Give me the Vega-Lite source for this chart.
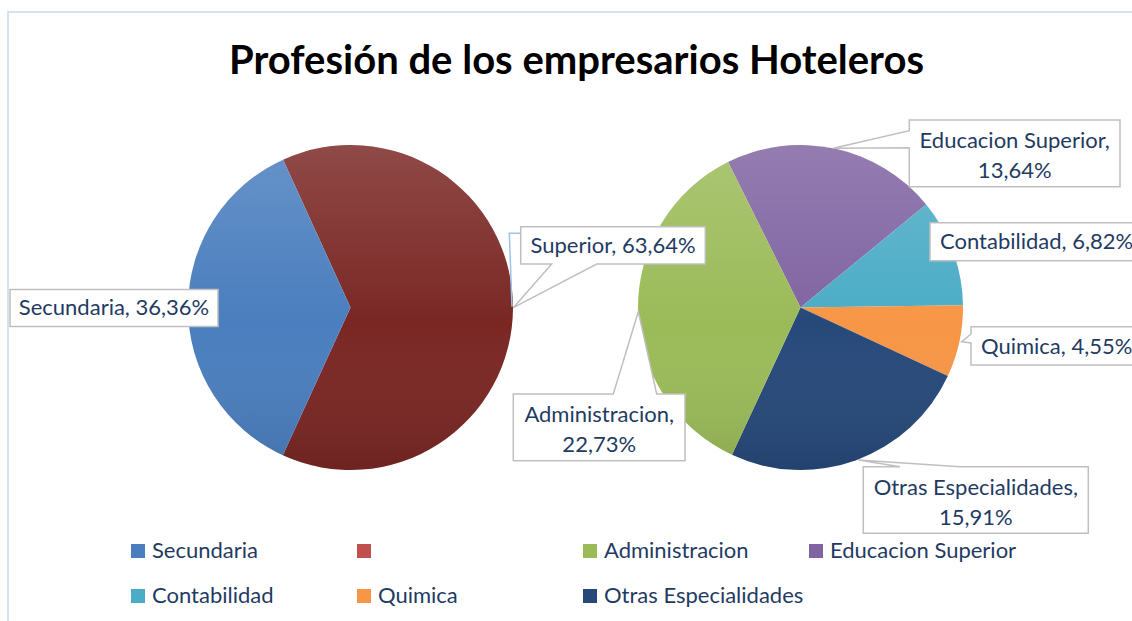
{
  "$schema": "https://vega.github.io/schema/vega-lite/v6.json",
  "width": 1124,
  "height": 609,
  "autosize": "none",
  "padding": {"left": 8, "top": 12, "right": 0, "bottom": 0},
  "background": "white",
  "config": {"view": {"stroke": "#C6D9F1", "strokeWidth": 1.5, "strokeDash": [1124, 1733, 700, 10]}, "font": "Lato"},
  "title": {"text": "Profesión de los empresarios Hoteleros", "fontSize": 40, "font": "Lato", "fontWeight": "bold", "color": "#000000", "anchor": "middle", "frame": "group", "offset": -70, "dx": 6.5},
  "datasets": {
    "datos": [
      {"pie": "Pie 1", "categoria": "Superior", "valor": 63.64, "orden": 1, "etiqueta": "Superior, 63,64%"},
      {"pie": "Pie 1", "categoria": "Secundaria", "valor": 36.36, "orden": 2, "etiqueta": "Secundaria, 36,36%"},
      {"pie": "Pie 2", "categoria": "Educacion Superior", "valor": 13.64, "orden": 1, "etiqueta": "Educacion Superior,\n13,64%"},
      {"pie": "Pie 2", "categoria": "Contabilidad", "valor": 6.82, "orden": 2, "etiqueta": "Contabilidad, 6,82%"},
      {"pie": "Pie 2", "categoria": "Quimica", "valor": 4.55, "orden": 3, "etiqueta": "Quimica, 4,55%"},
      {"pie": "Pie 2", "categoria": "Otras Especialidades", "valor": 15.91, "orden": 4, "etiqueta": "Otras Especialidades,\n15,91%"},
      {"pie": "Pie 2", "categoria": "Administracion", "valor": 22.73, "orden": 5, "etiqueta": "Administracion,\n22,73%"}
    ]
  },
  "data": {"name": "datos"},
  "encoding": {
    "x": {"field": "pie", "type": "nominal", "scale": {"type": "point", "domain": ["Pie 1", "Pie 2"], "range": [342.5, 792.5], "padding": 0}, "axis": null},
    "y": {"field": "pie", "type": "nominal", "scale": {"type": "point", "domain": ["Pie 1", "Pie 2"], "range": [295.5, 295.5], "padding": 0}, "axis": null}
  },
  "layer": [
    {
      "transform": [{"filter": "datum.pie === 'Pie 1'"}],
      "mark": {"type": "arc", "radius": 162.5},
      "encoding": {
        "theta": {"field": "valor", "type": "quantitative", "stack": true, "scale": {"range": [-0.4276, 5.8556]}},
        "order": {"field": "orden", "type": "quantitative"},
        "fill": {
          "condition": {"test": "datum.categoria === 'Superior'", "value": "#7A2724"},
          "field": "categoria", "type": "nominal",
          "scale": {"domain": ["Secundaria", "Superior", "Administracion", "Educacion Superior", "Contabilidad", "Quimica", "Otras Especialidades"], "range": ["#4A7EBE", "#C0504D", "#9BBB59", "#8064A2", "#4BACC6", "#F79646", "#27497A"]},
          "legend": {
            "title": null, "orient": "none", "legendX": 119, "legendY": 528, "direction": "horizontal", "columns": 4, "gridAlign": "all",
            "columnPadding": 1, "rowPadding": 23, "symbolType": "square", "symbolSize": 196, "symbolStrokeWidth": 0,
            "labelFontSize": 22, "labelFont": "Lato", "labelColor": "#1F3B63", "labelOffset": 3, "padding": 0, "labelLimit": 400,
            "labelExpr": "datum.label === 'Superior' ? '' : datum.label"
          }
        }
      }
    },
    {
      "transform": [{"filter": "datum.pie === 'Pie 2'"}],
      "mark": {"type": "arc", "radius": 162.5},
      "encoding": {
        "theta": {"field": "valor", "type": "quantitative", "stack": true, "scale": {"range": [-0.4625, 5.8207]}},
        "order": {"field": "orden", "type": "quantitative"},
        "fill": {
          "field": "categoria", "type": "nominal",
          "scale": {"domain": ["Secundaria", "Superior", "Administracion", "Educacion Superior", "Contabilidad", "Quimica", "Otras Especialidades"], "range": ["#4A7EBE", "#C0504D", "#9BBB59", "#8064A2", "#4BACC6", "#F79646", "#27497A"]}
        }
      }
    },
    {
      "transform": [{"filter": "datum.orden === 1"}],
      "mark": {"type": "arc", "radius": 162.5, "theta": 0, "theta2": 6.2832,
        "fill": {"gradient": "linear", "x1": 0, "y1": 0, "x2": 0, "y2": 1, "stops": [{"offset": 0, "color": "rgba(255,255,255,0.16)"}, {"offset": 0.55, "color": "rgba(255,255,255,0)"}, {"offset": 1, "color": "rgba(0,0,0,0.1)"}]}},
      "encoding": {}
    },
    {
      "transform": [{"filter": "datum.categoria === 'Superior'"}],
      "mark": {"type": "point", "filled": false, "stroke": "#9DC3E6", "strokeWidth": 1.5, "size": 4, "opacity": 1, "shape": "M170.2,-74.2H158.8L161.5,-0.8"},
      "encoding": {}
    },
    {
      "mark": {"type": "point", "filled": true, "fill": "white", "stroke": "#BFBFBF", "strokeWidth": 1.5, "size": 4, "opacity": 1},
      "encoding": {
        "shape": {
          "field": "categoria", "type": "nominal", "legend": null,
          "scale": {
            "domain": ["Secundaria", "Superior", "Educacion Superior", "Contabilidad", "Quimica", "Administracion", "Otras Especialidades"],
            "range": [
              "M-340.5,-18H-132.5V19H-340.5Z",
              "M170.2,-80.8H354.8V-43.5H246.2L162.8,0.2L201.2,-43.5H170.2Z",
              "M108.8,-187.5H319.5V-120.8H108.8V-159.8L32.8,-159.2L108.8,-176.8Z",
              "M129.5,-84.8H344.5V-46.8H129.5Z",
              "M170.5,19.2H344.5V57.5H170.5V35.5L161.2,34.2L170.5,26.5Z",
              "M-287.2,86.5H-187.2L-162.2,4.2L-143.8,86.5H-115.5V153.2H-287.2Z",
              "M62.8,159.2H99.5L57.8,152.5L159.5,159.2H287.8V225.8H62.8Z"
            ]
          }
        }
      }
    },
    {
      "transform": [{"filter": "datum.categoria === 'Secundaria'"}],
      "mark": {"type": "text", "dx": -236.5, "dy": 0.5, "align": "center", "baseline": "middle", "fontSize": 22, "font": "Lato", "color": "#1F3B63", "lineBreak": "\n", "lineHeight": 30},
      "encoding": {"text": {"field": "etiqueta"}}
    },
    {
      "transform": [{"filter": "datum.categoria === 'Superior'"}],
      "mark": {"type": "text", "dx": 262.5, "dy": -62, "align": "center", "baseline": "middle", "fontSize": 22, "font": "Lato", "color": "#1F3B63", "lineBreak": "\n", "lineHeight": 30},
      "encoding": {"text": {"field": "etiqueta"}}
    },
    {
      "transform": [{"filter": "datum.categoria === 'Educacion Superior'"}],
      "mark": {"type": "text", "dx": 214.2, "dy": -166.5, "align": "center", "baseline": "middle", "fontSize": 22, "font": "Lato", "color": "#1F3B63", "lineBreak": "\n", "lineHeight": 30},
      "encoding": {"text": {"field": "etiqueta"}}
    },
    {
      "transform": [{"filter": "datum.categoria === 'Contabilidad'"}],
      "mark": {"type": "text", "dx": 139.5, "dy": -65.8, "align": "left", "baseline": "middle", "fontSize": 22, "font": "Lato", "color": "#1F3B63", "lineBreak": "\n", "lineHeight": 30},
      "encoding": {"text": {"field": "etiqueta"}}
    },
    {
      "transform": [{"filter": "datum.categoria === 'Quimica'"}],
      "mark": {"type": "text", "dx": 180.5, "dy": 39.2, "align": "left", "baseline": "middle", "fontSize": 22, "font": "Lato", "color": "#1F3B63", "lineBreak": "\n", "lineHeight": 30},
      "encoding": {"text": {"field": "etiqueta"}}
    },
    {
      "transform": [{"filter": "datum.categoria === 'Administracion'"}],
      "mark": {"type": "text", "dx": -201.3, "dy": 107.5, "align": "center", "baseline": "middle", "fontSize": 22, "font": "Lato", "color": "#1F3B63", "lineBreak": "\n", "lineHeight": 30},
      "encoding": {"text": {"field": "etiqueta"}}
    },
    {
      "transform": [{"filter": "datum.categoria === 'Otras Especialidades'"}],
      "mark": {"type": "text", "dx": 175.3, "dy": 180.8, "align": "center", "baseline": "middle", "fontSize": 22, "font": "Lato", "color": "#1F3B63", "lineBreak": "\n", "lineHeight": 30},
      "encoding": {"text": {"field": "etiqueta"}}
    }
  ],
  "resolve": {"scale": {"theta": "independent"}}
}
